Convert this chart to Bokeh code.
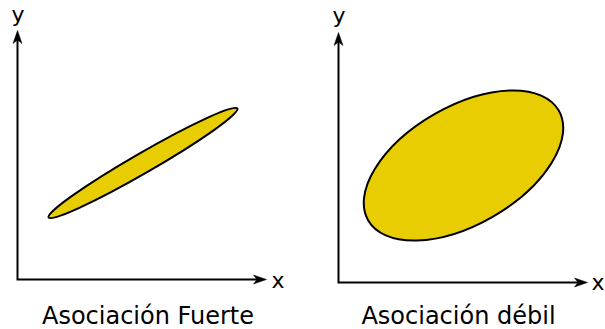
import numpy as np
from bokeh.plotting import figure
from bokeh.models import Range1d, ColumnDataSource
from bokeh.core.properties import value
from bokeh.embed import file_html
from bokeh.resources import INLINE

# ---- diagram data (1 unit = 1 px, y pointing up) ----
captions = ["Asociación Fuerte", "Asociación débil"]
x_names = ["x", "x"]
y_names = ["y", "y"]
origin_x = [17.0, 338.0]
origin_y = [50.0, 47.0]
x_tip = [266.0, 587.0]
y_tip = [299.0, 297.0]
ell_cx = [142.5, 463.0]
ell_cy = [166.5, 164.0]
ell_major = [218.0, 220.0]
ell_minor = [20.0, 118.0]
ell_angle = [30.0, 30.0]
caption_x = [147.5, 458.0]
caption_y = [13.5, 13.5]
xlabel_x = [277.5, 597.5]
xlabel_y = [49.0, 47.0]
ylabel_x = [17.5, 338.5]
ylabel_y = [315.0, 314.0]

FILL = "#e9cd03"
HEAD_LEN, HEAD_W, NOTCH = 13.0, 9.0, 3.5

p = figure(width=605, height=329, x_range=Range1d(0, 605), y_range=Range1d(0, 329),
           output_backend="svg", toolbar_location=None,
           x_axis_type=None, y_axis_type=None, min_border=0)
p.grid.visible = False
p.outline_line_color = None
p.background_fill_color = "white"
p.border_fill_color = "white"

# ellipses
p.ellipse(x=ell_cx, y=ell_cy, width=ell_major, height=ell_minor, angle=ell_angle,
          angle_units="deg", fill_color=FILL, line_color="black", line_width=2)

# axes lines + arrowheads
xs, ys, hx, hy = [], [], [], []
for ox, oy, xt, yt in zip(origin_x, origin_y, x_tip, y_tip):
    back = HEAD_LEN - NOTCH
    xs.append([ox, ox, xt - back])
    ys.append([yt - back, oy, oy])
    # arrowhead on x axis (pointing right)
    hx.append([xt, xt - HEAD_LEN, xt - back, xt - HEAD_LEN])
    hy.append([oy, oy + HEAD_W / 2, oy, oy - HEAD_W / 2])
    # arrowhead on y axis (pointing up)
    hx.append([ox, ox + HEAD_W / 2, ox, ox - HEAD_W / 2])
    hy.append([yt, yt - HEAD_LEN, yt - back, yt - HEAD_LEN])

p.multi_line(xs=xs, ys=ys, line_color="black", line_width=2, line_join="miter")
p.patches(xs=hx, ys=hy, fill_color="black", line_color="black", line_width=0.5)

font = value("DejaVu Sans")
p.text(x=xlabel_x, y=xlabel_y, text=x_names, text_font=font, text_font_size=value("22px"),
       text_align="center", text_baseline="alphabetic", text_color="black")
p.text(x=ylabel_x, y=ylabel_y, text=y_names, text_font=font, text_font_size=value("22px"),
       text_align="center", text_baseline="alphabetic", text_color="black")
p.text(x=caption_x, y=caption_y, text=captions, text_font=font, text_font_size=value("24px"),
       text_align="center", text_baseline="alphabetic", text_color="black")

open("out.html", "w").write(file_html(p, INLINE))
